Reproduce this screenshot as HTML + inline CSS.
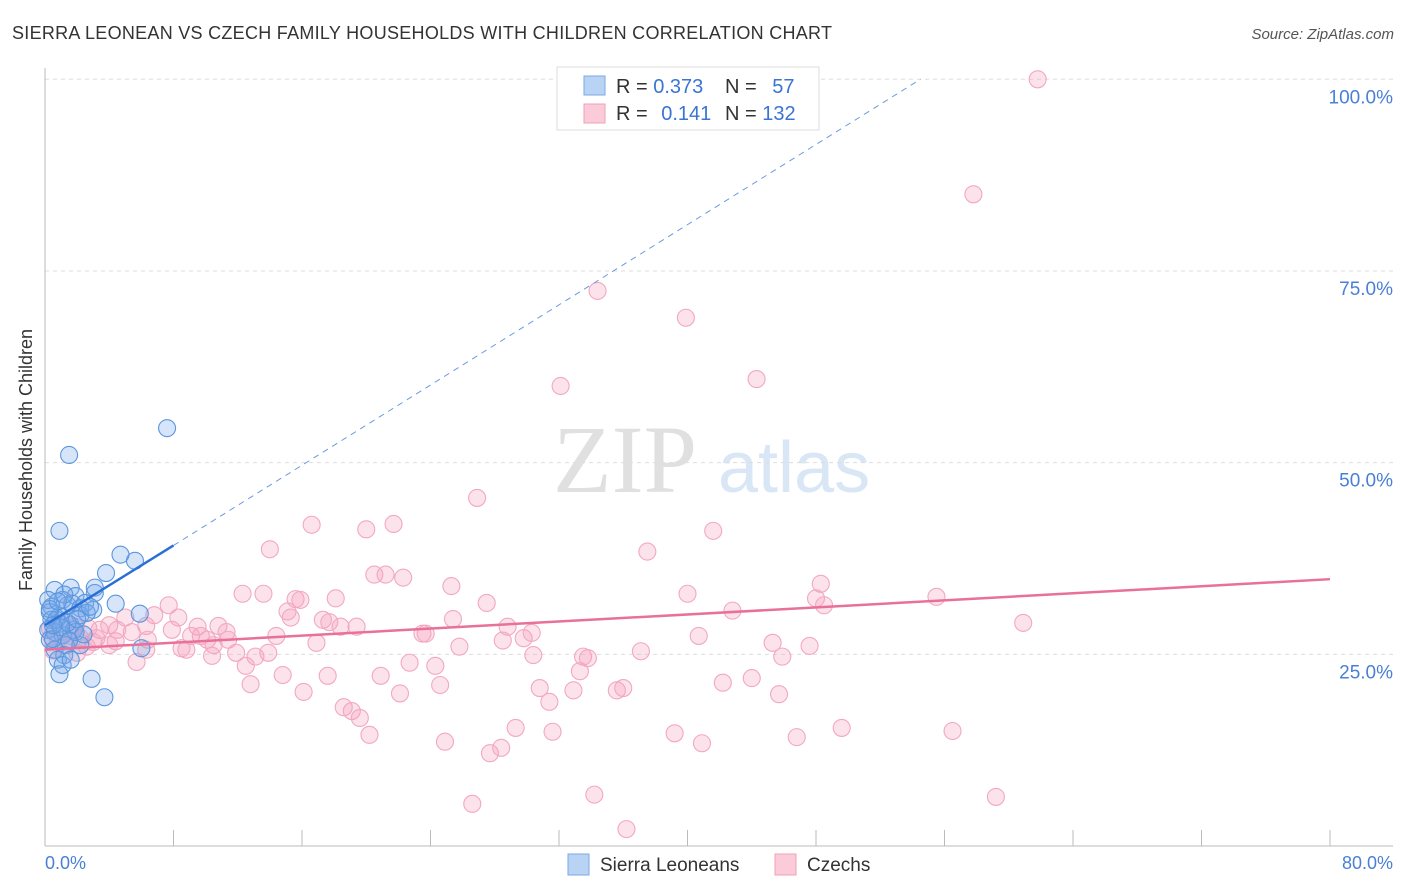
<!DOCTYPE html>
<html><head><meta charset="utf-8"><style>
body{margin:0;background:#fff;font-family:"Liberation Sans",sans-serif;}
#c{position:absolute;left:0;top:0;}
</style></head><body>
<svg id="c" width="1406" height="892">
<text x="12" y="39" font-size="18" fill="#333" textLength="820">SIERRA LEONEAN VS CZECH FAMILY HOUSEHOLDS WITH CHILDREN CORRELATION CHART</text>
<text x="1394" y="39" font-size="15" fill="#555" font-style="italic" text-anchor="end">Source: ZipAtlas.com</text>
<g>
<text x="553" y="492" font-size="96" fill="#e0e0e0" font-family="Liberation Serif,serif">ZIP</text>
<text x="718" y="492" font-size="72" fill="#d8e6f6">atlas</text>
</g>
<g id="grid"></g>
<g id="pink"></g>
<g id="blue"></g>
<g id="trend"></g>
<text x="-460" y="32" transform="rotate(-90)" font-size="18" fill="#333" text-anchor="middle">Family Households with Children</text>
<text x="45" y="869" font-size="18" fill="#4a7fd6">0.0%</text>
<text x="1393" y="869" font-size="18" fill="#4a7fd6" text-anchor="end">80.0%</text>
<g>
<rect x="557" y="67" width="262" height="63" fill="#fff" stroke="#ddd"/>
<rect x="584" y="76" width="21" height="19" fill="#b9d3f5" stroke="#7aaae6"/>
<rect x="584" y="104" width="21" height="19" fill="#fbcbd9" stroke="#f0a0bb"/>
<text x="616" y="93" font-size="20" fill="#333">R = <tspan fill="#3a74d4">0.373</tspan></text>
<text x="725" y="93" font-size="20" fill="#333">N = <tspan fill="#3a74d4" dx="10">57</tspan></text>
<text x="616" y="120" font-size="20" fill="#333">R = <tspan fill="#3a74d4" dx="8">0.141</tspan></text>
<text x="725" y="120" font-size="20" fill="#333">N = <tspan fill="#3a74d4">132</tspan></text>
</g>
<g>
<rect x="568" y="854" width="21" height="21" fill="#b9d3f5" stroke="#7aaae6"/>
<text x="600" y="871" font-size="19" fill="#333">Sierra Leoneans</text>
<rect x="775" y="854" width="21" height="21" fill="#fbcbd9" stroke="#f0a0bb"/>
<text x="807" y="871" font-size="19" fill="#333">Czechs</text>
</g>
</svg>
<script>
const yTicks=[25,50,75,100];
const yTickLabels=["25.0%","50.0%","75.0%","100.0%"];
const xTicks=[0,8,16,24,32,40,48,56,64,72,80];
const blueX=[7.6,1.5,0.9,4.7,5.6,3.8,0.6,1.6,3.1,3.1,1.9,1.1,0.4,1.4,1.7,2.5,4.4,5.9,3.0,2.2,0.9,0.3,0.4,0.9,1.6,0.2,0.6,1.1,0.3,1.8,1.3,2.2,0.6,1.2,0.8,1.1,1.6,0.9,2.9,3.7,6.0,0.2,0.7,2.2,2.6,1.9,1.4,0.5,2.0,1.0,0.3,2.8,1.2,0.5,1.5,0.8,2.4];
const blueY=[54.5,51.0,41.1,38.0,37.2,35.6,33.4,33.7,33.7,33.0,32.6,32.1,31.2,31.4,31.6,31.7,31.6,30.3,30.8,31.0,30.0,30.5,29.5,29.0,28.8,28.2,27.9,27.5,26.9,28.2,26.2,26.2,25.6,24.9,24.3,23.6,24.3,22.4,21.8,19.4,25.8,32.1,29.5,30.1,30.4,27.9,29.1,27.0,29.6,28.5,30.9,31.2,32.8,28.8,26.8,31.9,27.6];
const pinkX=[61.8,57.8,34.4,39.9,32.1,44.3,26.9,16.6,20.0,21.7,41.6,14.0,37.5,20.5,21.2,22.3,25.3,48.3,12.3,13.6,15.6,15.9,18.1,27.5,40.0,48.0,48.5,55.5,42.8,7.7,15.1,15.3,17.3,17.7,18.4,19.4,25.4,28.8,60.9,6.8,8.3,5.0,6.3,7.9,9.5,10.8,11.3,9.7,10.1,11.4,10.5,9.1,5.4,3.4,3.2,4.4,4.0,6.4,6.3,8.5,8.8,10.4,11.9,13.9,13.1,14.4,16.9,23.5,23.7,25.8,28.5,29.8,30.3,30.4,37.1,40.7,45.3,47.6,45.9,33.5,33.8,33.3,22.7,24.3,12.5,14.8,17.6,20.9,24.6,12.8,16.1,22.1,30.8,32.9,35.6,36.0,42.2,44.0,45.7,31.4,18.6,19.1,19.6,20.2,24.9,27.7,28.4,29.3,31.6,39.2,40.9,46.8,49.6,56.5,26.6,34.2,36.2,59.2,0.3,0.8,1.6,1.9,2.7,5.7,1.2,2.6,2.2,4.0,4.5,0.5,1.0,2.0,3.0,0.4];
const pinkY=[100.0,85.0,72.4,68.9,60.0,60.9,45.4,41.9,41.3,42.0,41.1,38.7,38.4,35.4,35.4,35.0,33.9,34.2,32.9,32.9,32.2,32.1,32.3,31.7,32.9,32.3,31.4,32.5,30.7,31.4,30.6,29.8,29.5,29.2,28.6,28.6,29.6,28.6,29.1,30.1,29.8,29.8,28.7,28.2,28.6,28.7,27.9,27.4,26.9,26.9,26.2,27.4,27.9,28.2,27.1,26.7,26.2,26.9,25.6,25.8,25.6,24.8,25.2,25.2,24.7,27.4,26.5,27.7,27.7,26.0,26.8,27.1,27.8,24.9,25.4,27.4,26.5,26.1,24.7,24.7,24.5,22.8,23.9,23.5,23.5,22.3,22.2,22.2,21.0,21.1,20.1,19.9,20.6,20.3,20.3,20.6,21.3,21.9,19.8,18.8,18.1,17.6,16.7,14.5,13.6,12.1,12.8,15.4,14.9,14.7,13.4,14.2,15.4,15.0,5.5,6.7,2.2,6.4,28.4,26.9,27.4,28.6,28.4,24.0,26.2,26.0,27.1,28.8,28.2,25.5,29.0,25.2,26.6,27.3];
const blueTrend=[0,28.8,8,39.2,54.5,100];
const pinkTrend=[0,25.6,80,34.8];
const NS="http://www.w3.org/2000/svg";
const sx=v=>45+v*1285/80;
const sy=v=>846-v*7.667;
function mk(tag,attrs,parent){const e=document.createElementNS(NS,tag);for(const k in attrs)e.setAttribute(k,attrs[k]);parent.appendChild(e);return e;}
const grid=document.getElementById('grid');
yTicks.forEach((t,i)=>{
 const l=mk('line',{x1:45,x2:1393,y1:sy(t),y2:sy(t),stroke:'#ddd','stroke-dasharray':'4,4'},grid);
 
 
 const tx=mk('text',{x:1393,y:sy(t)+24,'font-size':19,fill:'#4a7fd6','text-anchor':'end'},grid);
 tx.textContent=yTickLabels[i];
 
 
});
const ax=mk('line',{x1:45,x2:1393,y1:846,y2:846,stroke:'#bbb'},grid);


const ay=mk('line',{x1:45,x2:45,y1:68,y2:846,stroke:'#bbb'},grid);


xTicks.forEach(t=>{
 const l=mk('line',{x1:sx(t),x2:sx(t),y1:830,y2:846,stroke:'#bbb'},grid);
 
 
});
const pg=document.getElementById('pink');
pinkX.forEach((x,i)=>{
 const c=mk('circle',{cx:sx(x),cy:sy(pinkY[i]),r:8.5,fill:'rgba(244,160,188,0.3)',stroke:'#f2a8c1','stroke-width':1.1},pg);
 
 
});
const bg=document.getElementById('blue');
blueX.forEach((x,i)=>{
 const c=mk('circle',{cx:sx(x),cy:sy(blueY[i]),r:8.5,fill:'rgba(120,170,235,0.3)',stroke:'#5b96de','stroke-width':1.1},bg);
 
 
});
const tg=document.getElementById('trend');
const b1=mk('line',{x1:sx(blueTrend[0]),y1:sy(blueTrend[1]),x2:sx(blueTrend[2]),y2:sy(blueTrend[3]),stroke:'#2a6fd6','stroke-width':2.5},tg);


const b2=mk('line',{x1:sx(blueTrend[2]),y1:sy(blueTrend[3]),x2:sx(blueTrend[4]),y2:sy(blueTrend[5]),stroke:'#6a9be0','stroke-width':1,'stroke-dasharray':'6,5'},tg);


const p1=mk('line',{x1:sx(pinkTrend[0]),y1:sy(pinkTrend[1]),x2:sx(pinkTrend[2]),y2:sy(pinkTrend[3]),stroke:'#e8709a','stroke-width':2.5},tg);


</script>
</body></html>
